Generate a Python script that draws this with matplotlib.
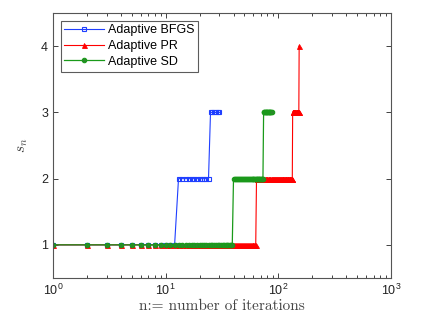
import numpy as np
import matplotlib
matplotlib.use("Agg")
import matplotlib.pyplot as plt

# s_n por tramos: (valor, numero de iteraciones con ese valor)
bfgs_levels = [1, 2, 3]
bfgs_runs = [12, 12, 6]
pr_levels = [1, 2, 3, 4]
pr_runs = [63, 70, 19, 1]
sd_levels = [1, 2, 3]
sd_runs = [39, 34, 14]

etiquetas = ["Adaptive BFGS", "Adaptive PR", "Adaptive SD"]


def serie(levels, runs):
    s = np.repeat(levels, runs)
    n = np.arange(1, len(s) + 1)
    return n, s


plt.rcParams['mathtext.fontset'] = 'cm'
plt.rcParams['font.family'] = ['Liberation Sans', 'DejaVu Sans']

fig = plt.figure(figsize=(4.36, 3.27), dpi=100)
ax = fig.add_axes([0.1216, 0.150, 0.7752, 0.810])

n, s = serie(bfgs_levels, bfgs_runs)
ax.plot(n, s, color='#1f3fff', lw=0.8, marker='s', ms=2.6, mfc='none', mew=0.8,
        label=etiquetas[0])
n, s = serie(pr_levels, pr_runs)
ax.plot(n, s, color='#ff0000', lw=0.8, marker='^', ms=3.6, mew=0.6,
        label=etiquetas[1])
n, s = serie(sd_levels, sd_runs)
ax.plot(n, s, color='#1a9a1a', lw=0.9, marker='o', ms=3.2, mfc='#2a8a2a', mew=0.8,
        label=etiquetas[2])

ax.set_xscale('log')
ax.set_xlim(1, 1000)
ax.set_ylim(0.5, 4.5)
ax.set_yticks([1, 2, 3, 4])
ax.tick_params(which='both', direction='in', top=True, right=True, labelsize=9,
               colors='#222222', width=0.6)
ax.tick_params(which='major', length=3.5)
ax.tick_params(which='minor', length=2)
for sp in ax.spines.values():
    sp.set_color('#555555')
    sp.set_linewidth(0.8)

ax.set_xlabel('n:= number of iterations', fontfamily='cmr10', fontsize=11,
              color='#444444', labelpad=1)
ax.set_ylabel(r'$s_n$', fontsize=11, color='#444444', labelpad=8)

leg = ax.legend(loc='upper left', fontsize=9, fancybox=False, edgecolor='#333333',
                borderaxespad=0.6, handlelength=3.2, handletextpad=0.3,
                labelspacing=0.3, borderpad=0.3)
leg.get_frame().set_linewidth(0.8)

fig.savefig('out.png', dpi=100)
